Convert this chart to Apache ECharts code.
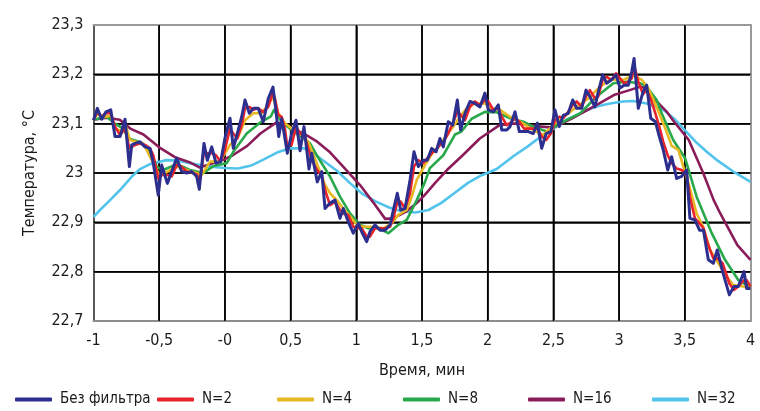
<!DOCTYPE html>
<html>
<head>
<meta charset="utf-8">
<script src="https://cdn.jsdelivr.net/npm/echarts@6/dist/echarts.min.js"></script>
<style>
  html, body { margin: 0; padding: 0; background: #fff; }
  #chart { width: 760px; height: 411px; background: #fff; }
</style>
</head>
<body>
<div id="chart"></div>
<script>
// Temperature record (min, °C): unfiltered signal and moving-average outputs
const rawData = [
  [-1.0, 23.107], [-0.971, 23.131], [-0.938, 23.109], [-0.905, 23.124], [-0.869, 23.128],
  [-0.836, 23.074], [-0.798, 23.074], [-0.760, 23.109], [-0.727, 23.013], [-0.709, 23.057],
  [-0.684, 23.060], [-0.646, 23.063], [-0.608, 23.053], [-0.570, 23.050], [-0.545, 23.020],
  [-0.507, 22.955], [-0.481, 23.016], [-0.438, 22.979], [-0.405, 23.003], [-0.367, 23.030],
  [-0.329, 23.003], [-0.291, 23.000], [-0.253, 23.003], [-0.215, 22.993], [-0.195, 22.967],
  [-0.159, 23.060], [-0.134, 23.026], [-0.100, 23.053], [-0.068, 23.020], [-0.032, 23.023],
  [0.000, 23.070], [0.039, 23.111], [0.064, 23.050], [0.094, 23.080], [0.128, 23.114],
  [0.153, 23.148], [0.186, 23.121], [0.216, 23.131], [0.254, 23.131], [0.292, 23.104],
  [0.330, 23.151], [0.366, 23.174], [0.385, 23.134], [0.410, 23.074], [0.432, 23.110],
  [0.457, 23.070], [0.475, 23.040], [0.508, 23.080], [0.541, 23.107], [0.572, 23.045],
  [0.602, 23.094], [0.640, 23.008], [0.661, 23.040], [0.703, 22.982], [0.737, 23.003],
  [0.762, 22.928], [0.800, 22.939], [0.838, 22.945], [0.876, 22.908], [0.901, 22.928],
  [0.939, 22.901], [0.977, 22.878], [1.015, 22.898], [1.041, 22.881], [1.079, 22.861],
  [1.104, 22.881], [1.142, 22.895], [1.181, 22.884], [1.219, 22.884], [1.257, 22.895],
  [1.282, 22.925], [1.312, 22.959], [1.338, 22.925], [1.371, 22.928], [1.409, 22.986],
  [1.439, 23.043], [1.472, 23.013], [1.510, 23.026], [1.540, 23.026], [1.574, 23.050],
  [1.607, 23.043], [1.637, 23.070], [1.662, 23.053], [1.700, 23.104], [1.734, 23.097],
  [1.769, 23.148], [1.794, 23.087], [1.827, 23.121], [1.865, 23.145], [1.903, 23.141],
  [1.941, 23.134], [1.979, 23.162], [2.005, 23.128], [2.043, 23.124], [2.081, 23.138],
  [2.107, 23.087], [2.145, 23.087], [2.170, 23.094], [2.208, 23.124], [2.241, 23.084],
  [2.276, 23.084], [2.309, 23.084], [2.347, 23.080], [2.378, 23.101], [2.411, 23.050],
  [2.445, 23.080], [2.481, 23.084], [2.512, 23.128], [2.545, 23.094], [2.575, 23.117],
  [2.613, 23.121], [2.647, 23.148], [2.677, 23.131], [2.715, 23.131], [2.748, 23.168],
  [2.778, 23.155], [2.816, 23.134], [2.841, 23.164], [2.875, 23.199], [2.905, 23.182],
  [2.943, 23.189], [2.977, 23.199], [3.007, 23.172], [3.037, 23.178], [3.070, 23.178],
  [3.096, 23.205], [3.114, 23.232], [3.146, 23.131], [3.182, 23.164], [3.210, 23.178],
  [3.241, 23.111], [3.276, 23.104], [3.306, 23.074], [3.336, 23.047], [3.370, 23.006],
  [3.400, 23.033], [3.438, 22.989], [3.476, 22.993], [3.514, 23.006], [3.539, 22.908],
  [3.577, 22.905], [3.612, 22.884], [3.642, 22.884], [3.679, 22.824], [3.717, 22.817],
  [3.747, 22.844], [3.788, 22.800], [3.839, 22.753], [3.874, 22.770], [3.907, 22.770],
  [3.951, 22.800], [3.971, 22.766], [4.0, 22.766]
];

const n2Data = [
  [-1.0, 23.107], [-0.971, 23.124], [-0.938, 23.114], [-0.905, 23.121], [-0.869, 23.121],
  [-0.836, 23.094], [-0.798, 23.077], [-0.760, 23.090], [-0.727, 23.050], [-0.684, 23.057],
  [-0.646, 23.060], [-0.608, 23.057], [-0.570, 23.050], [-0.545, 23.036], [-0.507, 22.989],
  [-0.481, 22.996], [-0.438, 22.996], [-0.405, 22.993], [-0.367, 23.016], [-0.329, 23.013],
  [-0.291, 23.003], [-0.253, 23.001], [-0.215, 22.997], [-0.190, 22.986], [-0.159, 23.043],
  [-0.134, 23.040], [-0.100, 23.040], [-0.068, 23.036], [-0.032, 23.023], [0.000, 23.047],
  [0.039, 23.090], [0.064, 23.080], [0.094, 23.070], [0.128, 23.097], [0.153, 23.131],
  [0.186, 23.134], [0.216, 23.128], [0.254, 23.131], [0.292, 23.124], [0.330, 23.134],
  [0.364, 23.162], [0.381, 23.151], [0.406, 23.118], [0.432, 23.114], [0.457, 23.090],
  [0.475, 23.053], [0.508, 23.057], [0.541, 23.094], [0.572, 23.080], [0.602, 23.077],
  [0.635, 23.050], [0.661, 23.026], [0.703, 23.006], [0.737, 22.993], [0.762, 22.966],
  [0.800, 22.935], [0.838, 22.942], [0.876, 22.925], [0.901, 22.918], [0.939, 22.915],
  [0.977, 22.891], [1.015, 22.888], [1.041, 22.888], [1.079, 22.871], [1.104, 22.871],
  [1.142, 22.888], [1.181, 22.888], [1.219, 22.888], [1.257, 22.891], [1.282, 22.908],
  [1.312, 22.942], [1.338, 22.942], [1.371, 22.928], [1.409, 22.959], [1.439, 23.013],
  [1.472, 23.026], [1.510, 23.020], [1.540, 23.030], [1.574, 23.040], [1.607, 23.047],
  [1.637, 23.057], [1.662, 23.063], [1.700, 23.080], [1.734, 23.101], [1.769, 23.124],
  [1.794, 23.118], [1.827, 23.107], [1.865, 23.134], [1.903, 23.145], [1.941, 23.138],
  [1.979, 23.148], [2.005, 23.145], [2.043, 23.128], [2.081, 23.131], [2.107, 23.114],
  [2.145, 23.097], [2.170, 23.101], [2.208, 23.111], [2.241, 23.104], [2.276, 23.090],
  [2.309, 23.090], [2.347, 23.090], [2.378, 23.090], [2.411, 23.074], [2.445, 23.067],
  [2.481, 23.080], [2.512, 23.107], [2.545, 23.114], [2.575, 23.111], [2.613, 23.124],
  [2.647, 23.138], [2.677, 23.145], [2.715, 23.134], [2.748, 23.155], [2.778, 23.168],
  [2.816, 23.151], [2.841, 23.155], [2.875, 23.189], [2.905, 23.195], [2.943, 23.189],
  [2.977, 23.202], [3.007, 23.192], [3.037, 23.182], [3.070, 23.185], [3.096, 23.192],
  [3.114, 23.219], [3.146, 23.185], [3.182, 23.160], [3.210, 23.168], [3.241, 23.150],
  [3.276, 23.121], [3.306, 23.094], [3.336, 23.063], [3.370, 23.036], [3.400, 23.020],
  [3.438, 23.009], [3.476, 23.006], [3.514, 22.996], [3.539, 22.952], [3.577, 22.908],
  [3.612, 22.898], [3.642, 22.888], [3.679, 22.854], [3.717, 22.827], [3.747, 22.827],
  [3.788, 22.817], [3.839, 22.776], [3.874, 22.763], [3.907, 22.770], [3.951, 22.783],
  [3.971, 22.783], [4.0, 22.770]
];

const n4Data = [
  [-1.0, 23.109], [-0.971, 23.119], [-0.905, 23.114], [-0.869, 23.116], [-0.836, 23.090],
  [-0.785, 23.085], [-0.753, 23.094], [-0.722, 23.067], [-0.671, 23.063], [-0.621, 23.060],
  [-0.583, 23.040], [-0.532, 23.013], [-0.494, 22.993], [-0.456, 23.000], [-0.367, 23.013],
  [-0.290, 23.006], [-0.215, 23.000], [-0.177, 22.996], [-0.113, 23.023], [-0.037, 23.023],
  [0.039, 23.057], [0.102, 23.074], [0.153, 23.107], [0.216, 23.121], [0.280, 23.121],
  [0.330, 23.138], [0.364, 23.155], [0.406, 23.121], [0.457, 23.101], [0.508, 23.090],
  [0.572, 23.080], [0.635, 23.063], [0.699, 23.020], [0.762, 22.976], [0.800, 22.959],
  [0.851, 22.945], [0.901, 22.928], [0.965, 22.908], [1.003, 22.895], [1.053, 22.891],
  [1.129, 22.891], [1.205, 22.888], [1.269, 22.898], [1.320, 22.915], [1.384, 22.925],
  [1.422, 22.952], [1.460, 22.986], [1.523, 23.016], [1.586, 23.043], [1.637, 23.057],
  [1.688, 23.077], [1.738, 23.094], [1.789, 23.114], [1.840, 23.131], [1.903, 23.141],
  [1.979, 23.141], [2.017, 23.131], [2.094, 23.128], [2.170, 23.114], [2.246, 23.104],
  [2.347, 23.087], [2.423, 23.077], [2.512, 23.100], [2.600, 23.118], [2.677, 23.134],
  [2.766, 23.151], [2.855, 23.175], [2.930, 23.189], [3.032, 23.189], [3.108, 23.197],
  [3.172, 23.189], [3.222, 23.172], [3.286, 23.133], [3.362, 23.083], [3.400, 23.055],
  [3.451, 23.047], [3.489, 23.013], [3.539, 22.969], [3.590, 22.918], [3.640, 22.891],
  [3.692, 22.844], [3.755, 22.817], [3.819, 22.790], [3.869, 22.773], [3.945, 22.770],
  [4.0, 22.766]
];

const n8Data = [
  [-1.0, 23.108], [-0.900, 23.114], [-0.836, 23.100], [-0.773, 23.090], [-0.735, 23.070],
  [-0.646, 23.063], [-0.583, 23.047], [-0.545, 23.030], [-0.519, 23.013], [-0.469, 23.006],
  [-0.367, 23.018], [-0.266, 23.006], [-0.164, 23.000], [-0.088, 23.014], [0.014, 23.020],
  [0.064, 23.043], [0.166, 23.080], [0.267, 23.102], [0.350, 23.115], [0.374, 23.128],
  [0.432, 23.104], [0.508, 23.087], [0.597, 23.070], [0.648, 23.060], [0.699, 23.036],
  [0.800, 22.993], [0.876, 22.952], [0.952, 22.918], [1.028, 22.895], [1.091, 22.888],
  [1.167, 22.888], [1.244, 22.878], [1.320, 22.895], [1.384, 22.905], [1.460, 22.945],
  [1.523, 22.982], [1.560, 23.010], [1.662, 23.036], [1.751, 23.078], [1.800, 23.084],
  [1.878, 23.110], [1.979, 23.124], [2.068, 23.123], [2.170, 23.111], [2.271, 23.104],
  [2.347, 23.094], [2.449, 23.084], [2.512, 23.094], [2.600, 23.107], [2.703, 23.121],
  [2.830, 23.155], [2.956, 23.182], [3.058, 23.185], [3.159, 23.182], [3.210, 23.175],
  [3.286, 23.148], [3.324, 23.121], [3.412, 23.067], [3.502, 23.030], [3.590, 22.952],
  [3.705, 22.878], [3.806, 22.824], [3.907, 22.783], [3.971, 22.773], [4.0, 22.770]
];

const n16Data = [
  [-1.0, 23.108], [-0.900, 23.112], [-0.800, 23.108], [-0.720, 23.090], [-0.620, 23.078],
  [-0.500, 23.052], [-0.380, 23.032], [-0.270, 23.022], [-0.190, 23.011], [-0.090, 23.020],
  [0.000, 23.028], [0.060, 23.036], [0.170, 23.055], [0.270, 23.080], [0.390, 23.102],
  [0.450, 23.100], [0.510, 23.090], [0.600, 23.080], [0.700, 23.064], [0.800, 23.042],
  [0.900, 23.013], [1.030, 22.975], [1.130, 22.940], [1.220, 22.907], [1.280, 22.908],
  [1.380, 22.922], [1.460, 22.939], [1.520, 22.955], [1.600, 22.980], [1.690, 23.006],
  [1.810, 23.036], [1.940, 23.070], [2.090, 23.097], [2.220, 23.101], [2.360, 23.095],
  [2.500, 23.092], [2.650, 23.112], [2.830, 23.138], [2.960, 23.158], [3.080, 23.168],
  [3.160, 23.175], [3.210, 23.172], [3.260, 23.152], [3.360, 23.125], [3.410, 23.107],
  [3.530, 23.067], [3.640, 23.000], [3.720, 22.945], [3.770, 22.918], [3.900, 22.854],
  [4.0, 22.824]
];

const n32Data = [
  [-1.0, 22.911], [-0.950, 22.925], [-0.874, 22.945], [-0.800, 22.965], [-0.700, 22.995],
  [-0.646, 23.008], [-0.570, 23.018], [-0.450, 23.026], [-0.350, 23.025], [-0.250, 23.019],
  [-0.150, 23.014], [0.000, 23.010], [0.100, 23.009], [0.200, 23.015], [0.300, 23.028],
  [0.400, 23.042], [0.500, 23.050], [0.600, 23.050], [0.650, 23.045], [0.750, 23.025],
  [0.850, 23.005], [0.950, 22.980], [1.050, 22.957], [1.150, 22.942], [1.250, 22.930],
  [1.350, 22.922], [1.450, 22.920], [1.550, 22.925], [1.650, 22.940], [1.750, 22.960],
  [1.850, 22.980], [1.950, 22.995], [2.068, 23.008], [2.200, 23.035], [2.300, 23.053],
  [2.400, 23.073], [2.500, 23.090], [2.600, 23.108], [2.728, 23.124], [2.830, 23.135],
  [2.930, 23.141], [3.030, 23.145], [3.108, 23.146], [3.210, 23.141], [3.336, 23.128],
  [3.420, 23.110], [3.489, 23.090], [3.580, 23.064], [3.667, 23.043], [3.750, 23.025],
  [3.869, 23.003], [3.950, 22.990], [4.0, 22.982]
];

const seriesNames = ['Без фильтра', 'N=2', 'N=4', 'N=8', 'N=16', 'N=32'];
const seriesColors = ['#2d2f8f', '#e8232b', '#e6b822', '#28a84a', '#8a1c5a', '#52c4ec'];
const seriesData = [rawData, n2Data, n4Data, n8Data, n16Data, n32Data];

// Axis ranges and inner grid positions (axis units)
const xRange = [-1, 4];
const yRange = [22.7, 23.3];
const xGridValues = [-0.5, 0, 0.5, 1, 1.5, 2, 2.5, 3, 3.5];
const yGridValues = [22.8, 22.9, 23.0, 23.1, 23.2];

const xTickLabels = { '-1': '-1', '-0.5': '-0,5', '0': '-0', '0.5': '0,5', '1': '1', '1.5': '1,5',
  '2': '2', '2.5': '2,5', '3': '3', '3.5': '3,5', '4': '4' };
const yTickLabels = { '22.7': '22,7', '22.8': '22,8', '22.9': '22,9', '23': '23',
  '23.1': '23,1', '23.2': '23,2', '23.3': '23,3' };

const FONT = "'Liberation Sans Narrow', 'DejaVu Sans Condensed', 'Liberation Sans', sans-serif";
const BORDER = '#9a9a9a';
const GRID_COLOR = '#000000';

const chart = echarts.init(document.getElementById('chart'), null, { renderer: 'canvas' });

// Legend entries sit in fixed slots along the bottom
const legendLeft = [15, 157, 277, 403, 528, 652];
const legends = seriesNames.map((name, i) => ({
  data: [name],
  left: legendLeft[i],
  top: 392,
  icon: 'roundRect',
  itemWidth: 37,
  itemHeight: 4,
  padding: 0,
  textStyle: { fontFamily: FONT, fontSize: 15, color: '#1a1a1a', padding: [0, 0, 0, 3] }
}));

// Grid lines as a custom series: each item is one grid value, mapped through the axes
function gridRenderer(vertical) {
  return function (params, api) {
    const v = api.value(vertical ? 0 : 1);
    const a = vertical ? api.coord([v, yRange[0]]) : api.coord([xRange[0], v]);
    const b = vertical ? api.coord([v, yRange[1]]) : api.coord([xRange[1], v]);
    return {
      type: 'line',
      shape: { x1: a[0], y1: a[1], x2: b[0], y2: b[1] },
      style: { stroke: GRID_COLOR, lineWidth: 1.5 },
      silent: true
    };
  };
}
const gridSeries = [
  { type: 'custom', name: 'xgrid', renderItem: gridRenderer(true), clip: false, z: 5,
    silent: true, data: xGridValues.map(v => [v, yRange[0]]) },
  { type: 'custom', name: 'ygrid', renderItem: gridRenderer(false), clip: false, z: 5,
    silent: true, data: yGridValues.map(v => [xRange[0], v]) }
];

// Draw smoother series first so the raw signal stays on top
const drawOrder = [5, 4, 3, 2, 1, 0];
const dataSeries = drawOrder.map(i => ({
  name: seriesNames[i],
  type: 'line',
  data: seriesData[i],
  symbol: 'none',
  smooth: false,
  color: seriesColors[i],
  lineStyle: { width: i === 0 ? 3 : 2.6, color: seriesColors[i], join: 'round' },
  emphasis: { disabled: true },
  z: 10 + (5 - i)
}));

const labelStyle = { fontFamily: FONT, fontSize: 16, color: '#1a1a1a' };

// Top and right frame edges come from label-less companion axes
const frameAxis = (position, range) => ({
  type: 'value',
  position: position,
  min: range[0],
  max: range[1],
  axisLine: { show: true, onZero: false, lineStyle: { color: BORDER, width: 2 } },
  axisTick: { show: false },
  axisLabel: { show: false },
  splitLine: { show: false }
});

chart.setOption({
  animation: false,
  grid: { left: 93.5, right: 9.5, top: 25, bottom: 90, containLabel: false },
  legend: legends,
  tooltip: { show: false },
  xAxis: [{
    type: 'value',
    position: 'bottom',
    min: xRange[0],
    max: xRange[1],
    interval: 0.5,
    name: 'Время, мин',
    nameLocation: 'middle',
    nameGap: 42,
    nameTextStyle: labelStyle,
    axisLine: { show: true, onZero: false, lineStyle: { color: '#8c8c8c', width: 2 } },
    axisTick: { show: false },
    axisLabel: Object.assign({ margin: 12,
      formatter: v => xTickLabels[String(Math.round(v * 10) / 10)] ?? String(v) }, labelStyle),
    splitLine: { show: true, lineStyle: { color: GRID_COLOR, width: 1.5 } }
  }, frameAxis('top', xRange)],
  yAxis: [{
    type: 'value',
    position: 'left',
    min: yRange[0],
    max: yRange[1],
    interval: 0.1,
    name: 'Температура, °C',
    nameLocation: 'middle',
    nameGap: 56,
    nameRotate: 90,
    nameTextStyle: labelStyle,
    axisLine: { show: true, onZero: false, lineStyle: { color: '#5a5a5a', width: 2 } },
    axisTick: { show: false },
    axisLabel: Object.assign({ margin: 10,
      formatter: v => yTickLabels[String(Math.round(v * 10) / 10)] ?? String(v) }, labelStyle),
    splitLine: { show: true, lineStyle: { color: GRID_COLOR, width: 1.5 } }
  }, frameAxis('right', yRange)],
  series: gridSeries.concat(dataSeries)
});
</script>
</body>
</html>
